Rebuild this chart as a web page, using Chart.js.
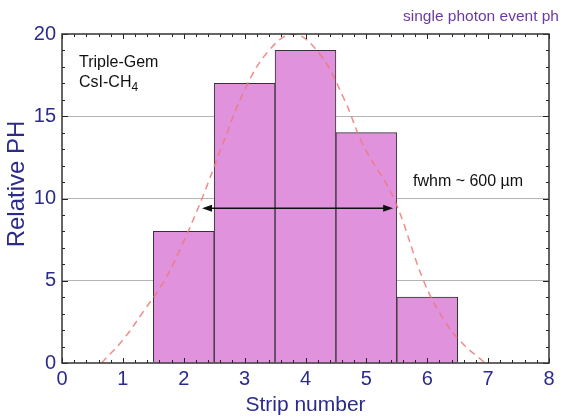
<!DOCTYPE html>
<html>
<head>
<meta charset="utf-8">
<script src="https://cdn.jsdelivr.net/npm/chart.js@4.4.1/dist/chart.umd.min.js"></script>
<style>
  html, body { margin: 0; padding: 0; background: #fff; }
  #wrap { width: 564px; height: 418px; }
</style>
</head>
<body>
<div id="wrap"><canvas id="phChart" width="564" height="418"></canvas></div>
<script>
// strip histogram
const stripNumbers = [2, 3, 4, 5, 6];
const relativePH = [8, 17, 19, 14, 4];

// dashed fit curve, read point by point
const fitX = [0.65, 1.0, 1.35, 1.68, 1.95, 2.3, 2.64, 3.0, 3.4, 3.8, 4.23, 4.64, 4.94, 5.45, 5.94, 6.26, 6.55, 6.95];
const fitY = [0, 1.4, 3.2, 5.0, 7.0, 10.0, 13.3, 16.6, 19.0, 20.0, 18.8, 16.0, 13.3, 10.0, 5.0, 2.7, 1.3, 0];

// fwhm arrow
const arrowSpan = [2.3, 5.44];
const arrowLevel = 9.4;

const NAVY = '#2b2b8c';
const FONT = "'Liberation Sans', Arial, sans-serif";

// frame, inward tick marks, arrow and text notes
const decorations = {
    id: 'decorations',
    afterDatasetsDraw(chart) {
        const { ctx, chartArea: a, scales: { x, y } } = chart;
        ctx.save();

        // inner ticks on all four sides
        ctx.strokeStyle = '#222';
        ctx.lineWidth = 1;
        ctx.beginPath();
        for (let i = 0; i <= 40; i++) {
            const px = Math.round(x.getPixelForValue(i * 0.2)) + 0.5;
            const len = i % 5 === 0 ? 5 : 3;
            ctx.moveTo(px, a.bottom); ctx.lineTo(px, a.bottom - len);
            ctx.moveTo(px, a.top); ctx.lineTo(px, a.top + len);
        }
        for (let v = 0; v <= 20; v++) {
            const py = Math.round(y.getPixelForValue(v)) + 0.5;
            const len = v % 5 === 0 ? 6 : 3;
            ctx.moveTo(a.left, py); ctx.lineTo(a.left + len, py);
            ctx.moveTo(a.right, py); ctx.lineTo(a.right - len, py);
        }
        ctx.stroke();

        // plot frame
        ctx.strokeStyle = '#333';
        ctx.lineWidth = 1.5;
        ctx.strokeRect(a.left, a.top, a.right - a.left, a.bottom - a.top);

        // double-headed arrow
        const x1 = x.getPixelForValue(arrowSpan[0]);
        const x2 = x.getPixelForValue(arrowSpan[1]);
        const ay = y.getPixelForValue(arrowLevel);
        ctx.strokeStyle = '#111';
        ctx.fillStyle = '#111';
        ctx.lineWidth = 1.5;
        ctx.beginPath();
        ctx.moveTo(x1 + 6, ay); ctx.lineTo(x2 - 6, ay);
        ctx.stroke();
        ctx.beginPath();
        ctx.moveTo(x1, ay); ctx.lineTo(x1 + 10, ay - 3.5); ctx.lineTo(x1 + 10, ay + 3.5); ctx.closePath();
        ctx.moveTo(x2, ay); ctx.lineTo(x2 - 10, ay - 3.5); ctx.lineTo(x2 - 10, ay + 3.5); ctx.closePath();
        ctx.fill();

        // notes
        ctx.fillStyle = '#111';
        ctx.textBaseline = 'alphabetic';
        ctx.textAlign = 'left';
        ctx.font = '16px ' + FONT;
        ctx.fillText('Triple-Gem', 79, 67);
        ctx.fillText('CsI-CH', 79, 87);
        const w = ctx.measureText('CsI-CH').width;
        ctx.font = '12px ' + FONT;
        ctx.fillText('4', 79 + w, 91);
        ctx.font = '16px ' + FONT;
        ctx.fillText('fwhm ~ 600 \u00b5m', 413, 186);

        ctx.fillStyle = '#6b3a9e';
        ctx.font = '15.5px ' + FONT;
        ctx.fillText('single photon event ph', 403, 21);

        // y axis title, a little above the plot middle
        ctx.save();
        ctx.translate(17, 184);
        ctx.rotate(-Math.PI / 2);
        ctx.fillStyle = NAVY;
        ctx.font = '24px ' + FONT;
        ctx.textAlign = 'center';
        ctx.textBaseline = 'middle';
        ctx.fillText('Relative PH', 0, 0);
        ctx.restore();

        ctx.restore();
    }
};

const ctx = document.getElementById('phChart').getContext('2d');
new Chart(ctx, {
    type: 'bar',
    data: {
        datasets: [
            {
                type: 'line',
                data: fitX.map((v, i) => ({ x: v, y: fitY[i] })),
                borderColor: 'rgba(240, 120, 120, 0.85)',
                borderWidth: 1.5,
                borderDash: [7, 5],
                pointRadius: 0,
                tension: 0.4,
                fill: false,
                order: 1
            },
            {
                data: stripNumbers.map((v, i) => ({ x: v, y: relativePH[i] })),
                backgroundColor: '#e092dc',
                borderColor: '#333',
                borderWidth: 1,
                barPercentage: 1,
                categoryPercentage: 1,
                order: 2
            }
        ]
    },
    options: {
        responsive: false,
        animation: false,
        devicePixelRatio: 1,
        layout: { padding: { top: 34, right: 15, left: 0, bottom: 0 } },
        plugins: { legend: { display: false }, tooltip: { enabled: false } },
        scales: {
            x: {
                type: 'linear',
                min: 0,
                max: 8,
                offset: false,
                grid: { display: false, drawTicks: false },
                border: { display: false },
                ticks: { stepSize: 1, color: NAVY, font: { family: FONT, size: 20 }, padding: 4, maxRotation: 0 },
                title: { display: true, text: 'Strip number', color: NAVY, font: { family: FONT, size: 21 }, padding: { top: 0, bottom: 0 } },
                afterFit(s) { s.height = 55; }
            },
            y: {
                min: 0,
                max: 20,
                grid: {
                    drawTicks: false,
                    color: c => (c.tick.value > 0 && c.tick.value < 20) ? '#b4b4b4' : 'rgba(0,0,0,0)'
                },
                border: { display: false },
                ticks: { stepSize: 5, color: NAVY, font: { family: FONT, size: 20 }, padding: 6 },
                title: { display: false },
                afterFit(s) { s.width = 62; }
            }
        }
    },
    plugins: [decorations]
});
</script>
</body>
</html>
